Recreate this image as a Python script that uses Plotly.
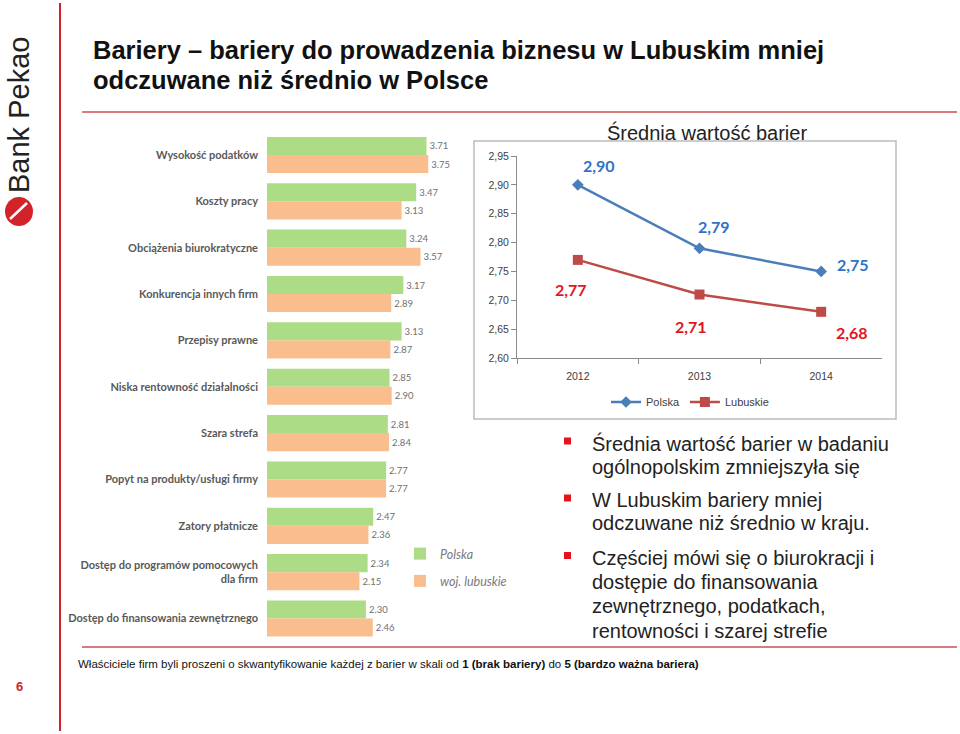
import plotly.graph_objects as go

# ---------------- data ----------------
categories = [
    "Wysokość podatków",
    "Koszty pracy",
    "Obciążenia biurokratyczne",
    "Konkurencja innych firm",
    "Przepisy prawne",
    "Niska rentowność działalności",
    "Szara strefa",
    "Popyt na produkty/usługi firmy",
    "Zatory płatnicze",
    "Dostęp do programów pomocowych<br>dla firm",
    "Dostęp do finansowania zewnętrznego",
]
polska_bars = [3.71, 3.47, 3.24, 3.17, 3.13, 2.85, 2.81, 2.77, 2.47, 2.34, 2.30]
lubuskie_bars = [3.75, 3.13, 3.57, 2.89, 2.87, 2.90, 2.84, 2.77, 2.36, 2.15, 2.46]

years = ["2012", "2013", "2014"]
polska_line = [2.90, 2.79, 2.75]
lubuskie_line = [2.77, 2.71, 2.68]
y_ticks = [2.60, 2.65, 2.70, 2.75, 2.80, 2.85, 2.90, 2.95]

title_lines = [
    "Bariery – bariery do prowadzenia biznesu w Lubuskim mniej",
    "odczuwane niż średnio w Polsce",
]
bullets = [
    ["Średnia wartość barier w badaniu", "ogólnopolskim zmniejszyła się"],
    ["W Lubuskim bariery mniej", "odczuwane niż średnio w kraju."],
    ["Częściej mówi się o biurokracji i", "dostępie do finansowania",
     "zewnętrznego, podatkach,", "rentowności i szarej strefie"],
]

W, H = 960, 734
def px_x(v): return v / W
def px_y(v): return 1 - v / H

GREEN = "#acdc86"
ORANGE = "#f9bd8e"
BLUE = "#4a7ebb"
RED = "#be4b48"

fig = go.Figure()

# ---------------- bar chart ----------------
fig.add_trace(go.Bar(
    y=categories, x=polska_bars, orientation="h", name="<i>Polska</i>",
    marker=dict(color=GREEN, line=dict(width=0)),
    text=[f"{v:.2f}" for v in polska_bars], textposition="outside",
    textfont=dict(size=9.5, color="#707070", family="Lato"),
    cliponaxis=False, xaxis="x", yaxis="y", legend="legend", legendgroup="a",
    hoverinfo="skip",
))
fig.add_trace(go.Bar(
    y=categories, x=lubuskie_bars, orientation="h", name="<i>woj. lubuskie</i>",
    marker=dict(color=ORANGE, line=dict(width=0)),
    text=[f"{v:.2f}" for v in lubuskie_bars], textposition="outside",
    textfont=dict(size=9.5, color="#707070", family="Lato"),
    cliponaxis=False, xaxis="x", yaxis="y", legend="legend", legendgroup="b",
    hoverinfo="skip",
))

# ---------------- line chart ----------------
fig.add_trace(go.Scatter(
    x=years, y=polska_line, mode="lines+markers", name="Polska",
    line=dict(color=BLUE, width=2.5),
    marker=dict(symbol="diamond", size=9, color=BLUE),
    xaxis="x2", yaxis="y2", legend="legend2",
))
fig.add_trace(go.Scatter(
    x=years, y=lubuskie_line, mode="lines+markers", name="Lubuskie",
    line=dict(color=RED, width=2.5),
    marker=dict(symbol="square", size=10, color=RED),
    xaxis="x2", yaxis="y2", legend="legend2",
))

annotations = []
pol_shift = [(21, 19), (14, 22), (32, 7)]
lub_shift = [(-7, -30), (-9, -32), (31, -21)]
for i, (v, (dx, dy)) in enumerate(zip(polska_line, pol_shift)):
    annotations.append(dict(x=i, y=v, xref="x2", yref="y2", xshift=dx, yshift=dy,
                            text=f"{v:.2f}".replace(".", ","), showarrow=False,
                            xanchor="center", yanchor="middle",
                            font=dict(family="Lato", size=16, color="#2e73c4", weight="bold")))
for i, (v, (dx, dy)) in enumerate(zip(lubuskie_line, lub_shift)):
    annotations.append(dict(x=i, y=v, xref="x2", yref="y2", xshift=dx, yshift=dy,
                            text=f"{v:.2f}".replace(".", ","), showarrow=False,
                            xanchor="center", yanchor="middle",
                            font=dict(family="Lato", size=16, color="#e2151d", weight="bold")))

# chart title
annotations.append(dict(x=px_x(707), y=px_y(132), xref="paper", yref="paper",
                        xanchor="center", yanchor="middle",
                        text="Średnia wartość barier", showarrow=False,
                        font=dict(family="Liberation Sans", size=20, color="#222222")))

# slide title
for txt, yc in zip(title_lines, [50, 80]):
    annotations.append(dict(x=px_x(91), y=px_y(yc), xref="paper", yref="paper",
                            xanchor="left", yanchor="middle",
                            text=f"<b>{txt}</b>", showarrow=False,
                            font=dict(family="Liberation Sans", size=25.5, color="#111111")))

# bullets
bullet_line_y = [[443, 467], [500, 523], [557.5, 581.5, 605.5, 630.5]]
shapes = []
for lines, ys in zip(bullets, bullet_line_y):
    for txt, yc in zip(lines, ys):
        annotations.append(dict(x=px_x(590), y=px_y(yc), xref="paper", yref="paper",
                                xanchor="left", yanchor="middle",
                                text=txt, showarrow=False,
                                font=dict(family="Liberation Sans", size=20, color="#222222")))
    yb = ys[0] - 2
    shapes.append(dict(type="rect", xref="paper", yref="paper",
                       x0=px_x(564), x1=px_x(571), y0=px_y(yb + 3.5), y1=px_y(yb - 3.5),
                       fillcolor="#e3141c", line=dict(width=0)))

# footnote
annotations.append(dict(x=px_x(76), y=px_y(664), xref="paper", yref="paper",
                        xanchor="left", yanchor="middle",
                        text="Właściciele firm byli proszeni o skwantyfikowanie każdej z barier w skali od <b>1 (brak bariery)</b> do <b>5 (bardzo ważna bariera)</b>",
                        showarrow=False,
                        font=dict(family="Liberation Sans", size=11.5, color="#111111")))

# page number
annotations.append(dict(x=px_x(19), y=px_y(686), xref="paper", yref="paper",
                        xanchor="center", yanchor="middle",
                        text="<b>6</b>", showarrow=False,
                        font=dict(family="Liberation Sans", size=13, color="#d2232a")))

# logo text
annotations.append(dict(x=px_x(19), y=px_y(115), xref="paper", yref="paper",
                        xanchor="center", yanchor="middle",
                        text="Bank Pekao", textangle=-90, showarrow=False,
                        font=dict(family="Liberation Sans", size=29, color="#222222")))

# shapes: lines and frame
shapes += [
    dict(type="line", xref="paper", yref="paper", x0=px_x(60), x1=px_x(60),
         y0=px_y(3), y1=px_y(731), line=dict(color="#d2232a", width=2)),
    dict(type="line", xref="paper", yref="paper", x0=px_x(82), x1=px_x(957),
         y0=px_y(112), y1=px_y(112), line=dict(color="#c8504e", width=1.5)),
    dict(type="line", xref="paper", yref="paper", x0=px_x(82), x1=px_x(957),
         y0=px_y(647), y1=px_y(647), line=dict(color="#c8504e", width=1.5)),
    dict(type="rect", xref="paper", yref="paper", x0=px_x(474), x1=px_x(896),
         y0=px_y(141), y1=px_y(419), line=dict(color="#bcbcbc", width=1.5)),
    # logo circle
    dict(type="circle", xref="paper", yref="paper", x0=px_x(5), x1=px_x(33),
         y0=px_y(197), y1=px_y(226), fillcolor="#d2232a", line=dict(width=0)),
    dict(type="line", xref="paper", yref="paper", x0=px_x(10), x1=px_x(27),
         y0=px_y(219), y1=px_y(203), line=dict(color="white", width=2.5)),
]

fig.update_layout(
    width=W, height=H,
    margin=dict(l=0, r=0, t=0, b=0),
    paper_bgcolor="white", plot_bgcolor="rgba(0,0,0,0)",
    separators=", ",
    barmode="group", bargap=0.22, bargroupgap=0,
    showlegend=True,
    xaxis=dict(domain=[px_x(267), px_x(467)], range=[0, 200 / 43], visible=False,
               anchor="y"),
    yaxis=dict(domain=[px_y(641.7), px_y(131.8)], autorange="reversed",
               type="category", categoryorder="array", categoryarray=categories,
               showline=False, showgrid=False, ticks="", ticklabelstandoff=8,
               tickfont=dict(family="Lato", size=11, color="#595959", weight="bold"),
               anchor="x", automargin=False),
    xaxis2=dict(domain=[px_x(517), px_x(882)], range=[-0.5, 2.5], type="category",
                showline=True, linecolor="#8a8a8a", linewidth=1, ticks="outside",
                tickson="boundaries", ticklen=5, tickcolor="#8a8a8a", showgrid=False,
                tickfont=dict(family="Liberation Sans", size=10.5, color="#404040"),
                ticklabelstandoff=8, anchor="y2", zeroline=False, automargin=False),
    yaxis2=dict(domain=[px_y(358), px_y(156)], range=[2.60, 2.95], tickvals=y_ticks,
                tickformat=".2f", showline=True, linecolor="#8a8a8a", linewidth=1,
                ticks="outside", ticklen=5, tickcolor="#8a8a8a", showgrid=False,
                zeroline=False,
                tickfont=dict(family="Liberation Sans", size=10.5, color="#404040"),
                anchor="x2", automargin=False),
    legend=dict(x=px_x(400), y=px_y(539), xanchor="left", yanchor="top",
                bgcolor="rgba(0,0,0,0)", tracegroupgap=8, itemwidth=30,
                font=dict(family="Lato", size=12.5, color="#7a7a7a")),
    legend2=dict(x=px_x(690), y=px_y(402), xanchor="center", yanchor="middle",
                 orientation="h", bgcolor="rgba(0,0,0,0)",
                 font=dict(family="Liberation Sans", size=11, color="#404040")),
    annotations=annotations,
    shapes=shapes,
)

fig.write_html("out.html", config={"displayModeBar": False},
               post_script="document.body.style.margin='0';")
